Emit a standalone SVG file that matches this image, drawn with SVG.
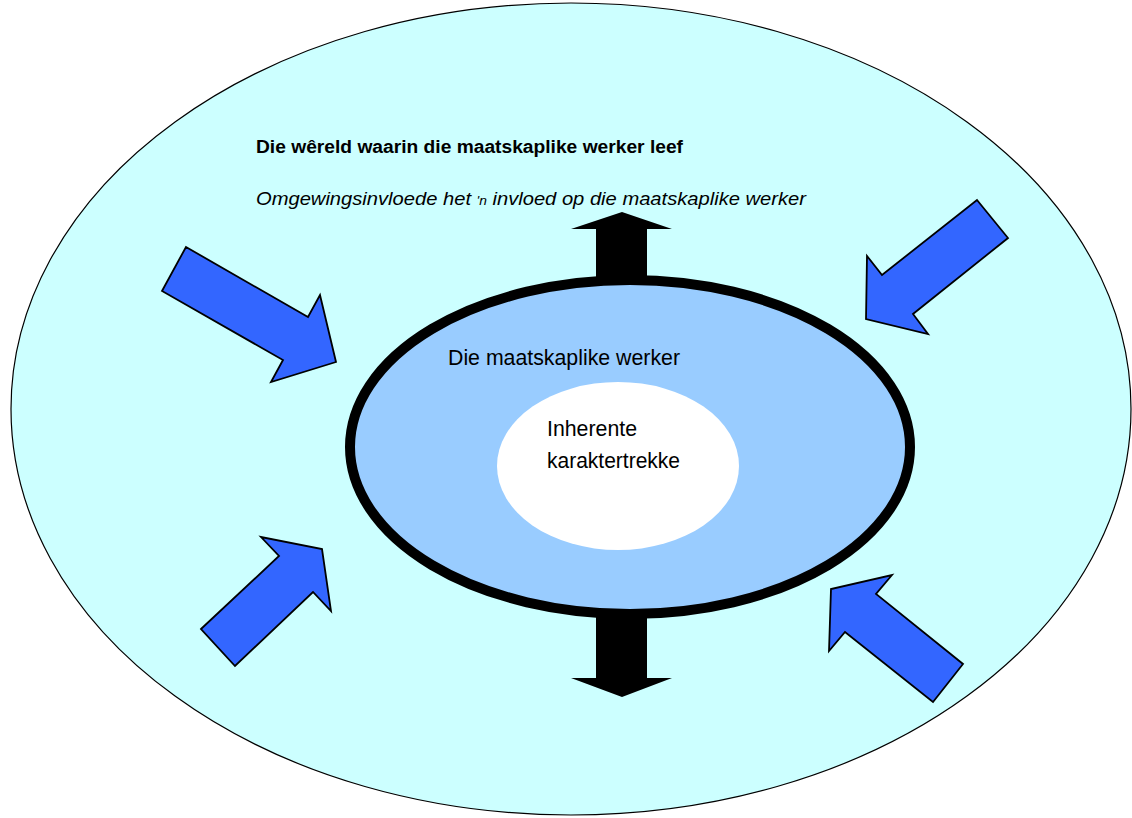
<svg xmlns="http://www.w3.org/2000/svg" width="1132" height="818" viewBox="0 0 1132 818">
<style>
.blue{fill:#3366FF;stroke:#000;stroke-width:1.8;stroke-linejoin:miter}
.t{font-family:"Liberation Sans",Arial,sans-serif;fill:#000}
</style>
<rect width="1132" height="818" fill="#fff"/>
<g id="world">
<ellipse cx="571" cy="409" rx="560" ry="406" fill="#CCFFFF" stroke="#000" stroke-width="1.2"/>
<text class="t" x="256" y="153" font-size="18" font-weight="bold" textLength="427" lengthAdjust="spacingAndGlyphs">Die wêreld waarin die maatskaplike werker leef</text>
<text class="t" x="256" y="205" font-size="19" font-style="italic" textLength="550" lengthAdjust="spacingAndGlyphs">Omgewingsinvloede het <tspan font-size="13">'n</tspan> invloed op die maatskaplike werker</text>
</g>
<g id="connectors">
<polygon points="622,212 672,229 647,229 647,284 596,284 596,229 571,229" fill="#000"/>
<polygon points="622,697 672,678 647,678 647,610 596,610 596,678 571,678" fill="#000"/>
<polygon class="blue" points="186,247 308,317 320,295 336,362 271,382 283,360 162,291"/>
<polygon class="blue" points="977,200 1008,238 913,314 928,334 866,319 867,256 882,275"/>
<polygon class="blue" points="201,629 279,556 261,537 322,549 331,611 313,592 235,666"/>
<polygon class="blue" points="892,575 876,594 963,664 933,702 845,632 829,651 831,589"/>
</g>
<g id="worker">
<ellipse cx="630" cy="447" rx="280" ry="167" fill="#99CCFF" stroke="#000" stroke-width="10"/>
<text class="t" x="448" y="365" font-size="22" textLength="232" lengthAdjust="spacingAndGlyphs">Die maatskaplike werker</text>
</g>
<g id="traits">
<ellipse cx="618" cy="466" rx="121" ry="84" fill="#fff"/>
<text class="t" x="547" y="436" font-size="22" textLength="90" lengthAdjust="spacingAndGlyphs">Inherente</text>
<text class="t" x="547" y="468" font-size="22" textLength="133" lengthAdjust="spacingAndGlyphs">karaktertrekke</text>
</g>
</svg>
